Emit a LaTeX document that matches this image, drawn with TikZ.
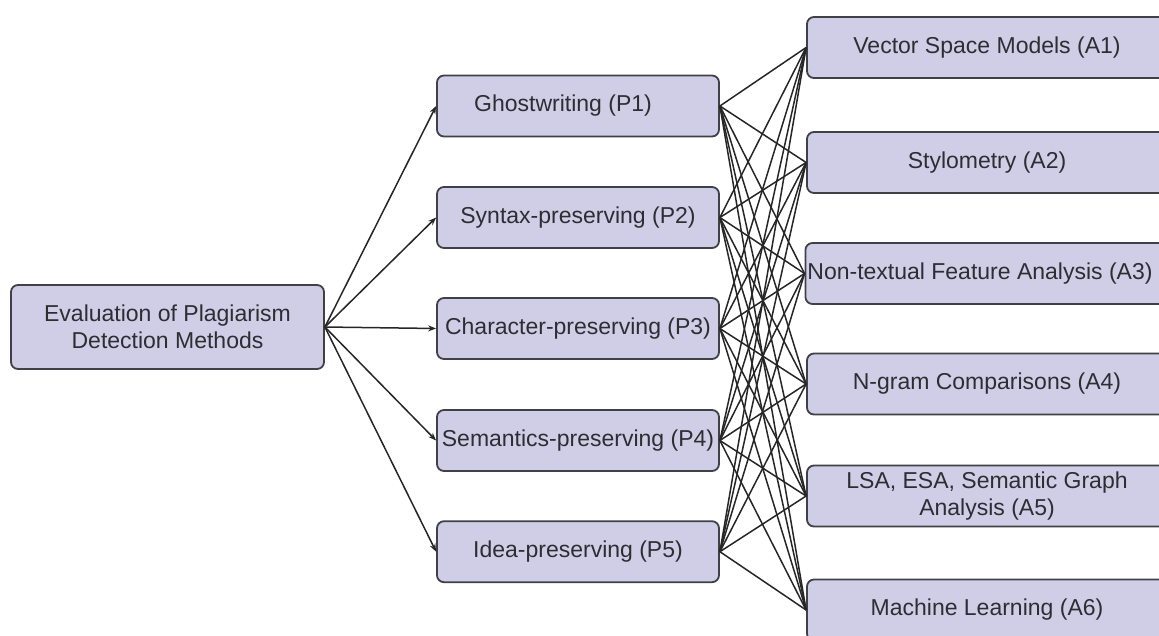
\documentclass[tikz,border=0pt]{standalone}
\usepackage{fontspec}
\setmainfont{Liberation Sans}
\usetikzlibrary{arrows.meta}
\definecolor{boxfill}{RGB}{208,205,231}
\definecolor{boxline}{RGB}{64,64,70}
\definecolor{txt}{RGB}{45,45,50}
\tikzset{
  box/.style={draw=boxline, fill=boxfill, line width=1.8pt, rounded corners=7pt,
    text=txt, align=center, inner sep=2pt,
    font=\fontsize{23}{27}\selectfont},
  rootbox/.style={box, minimum width=313pt, minimum height=84pt},
  pbox/.style={box, minimum width=282pt, minimum height=61pt},
  abox/.style={box, minimum width=360pt, minimum height=61pt},
  link/.style={draw=black!85, line width=1.5pt},
  arr/.style={link, -{Stealth[length=8pt,width=6pt]}}
}
\begin{document}
\begin{tikzpicture}[x=1pt,y=-1pt]
\useasboundingbox (0,0) rectangle (1159,635);
\begin{scope}
\clip (0,0) rectangle (1159,635);
\node[rootbox] (root) at (167.5,327) {Evaluation of Plagiarism\\Detection Methods};

\node[pbox] (p1) at (578,106) {\hspace*{-30pt}Ghostwriting (P1)};
\node[pbox] (p2) at (578,217.5) {Syntax-preserving (P2)};
\node[pbox] (p3) at (578,328.5) {Character-preserving (P3)};
\node[pbox] (p4) at (578,440.5) {Semantics-preserving (P4)};
\node[pbox] (p5) at (578,551.7) {Idea-preserving (P5)};

\node[abox] (a1) at (987,47.5) {Vector Space Models (A1)};
\node[abox] (a2) at (987,162.5) {Stylometry (A2)};
\node[abox] (a3) at (987,273.5) {Non-textual Feature Analysis (A3)\hspace*{14pt}};
\node[abox] (a4) at (987,384) {N-gram Comparisons (A4)};
\node[abox] (a5) at (987,496) {LSA, ESA, Semantic Graph\\Analysis (A5)};
\node[abox] (a6) at (987,610) {Machine Learning (A6)};

\foreach \i in {1,...,5}{
  \draw[arr] (root.east) -- (p\i.west);
  \foreach \j in {1,...,6}{
    \draw[link] (p\i.east) -- (a\j.west);
  }
}
\end{scope}
\end{tikzpicture}
\end{document}
